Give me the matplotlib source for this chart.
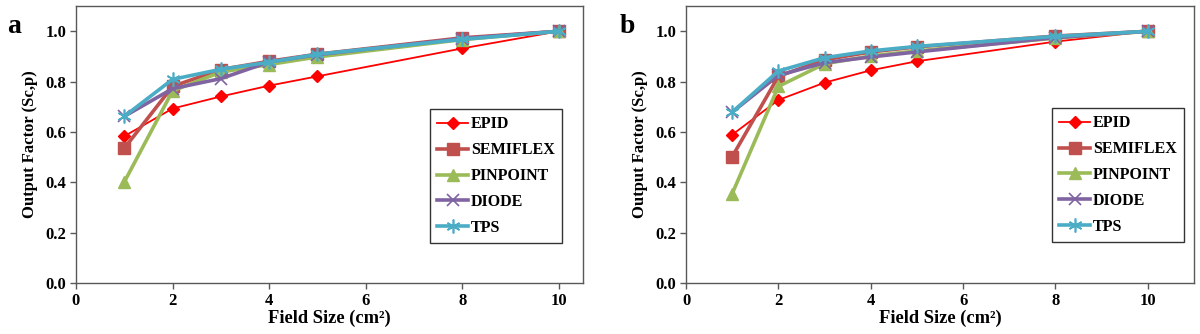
import matplotlib
matplotlib.use("Agg")
import matplotlib.pyplot as plt

plt.rcParams['font.family'] = ['Liberation Serif', 'DejaVu Serif']
plt.rcParams['font.weight'] = 'bold'

field_sizes = [1, 2, 3, 4, 5, 8, 10]

# Panel a
a_epid     = [0.583, 0.693, 0.741, 0.784, 0.821, 0.932, 1.0]
a_semiflex = [0.535, 0.781, 0.848, 0.881, 0.909, 0.974, 1.0]
a_pinpoint = [0.401, 0.763, 0.838, 0.868, 0.898, 0.967, 1.0]
a_diode    = [0.662, 0.772, 0.812, 0.878, 0.907, 0.971, 1.0]
a_tps      = [0.662, 0.809, 0.849, 0.877, 0.909, 0.968, 1.0]

# Panel b
b_epid     = [0.589, 0.727, 0.796, 0.845, 0.881, 0.959, 1.0]
b_semiflex = [0.502, 0.821, 0.887, 0.918, 0.938, 0.981, 1.0]
b_pinpoint = [0.355, 0.781, 0.871, 0.902, 0.922, 0.973, 1.0]
b_diode    = [0.679, 0.825, 0.875, 0.898, 0.918, 0.975, 1.0]
b_tps      = [0.679, 0.842, 0.895, 0.922, 0.940, 0.980, 1.0]

series_names = ["EPID", "SEMIFLEX", "PINPOINT", "DIODE", "TPS"]
x_ticks = [0, 2, 4, 6, 8, 10]
y_ticks = [0.0, 0.2, 0.4, 0.6, 0.8, 1.0]

styles = {
    "EPID":     dict(color="#FF0000", marker="D", lw=1.3, ms=6.5),
    "SEMIFLEX": dict(color="#C0504D", marker="s", lw=2.6, ms=8),
    "PINPOINT": dict(color="#9BBB59", marker="^", lw=2.6, ms=8),
    "DIODE":    dict(color="#8064A2", marker="x", lw=2.6, ms=8, mew=1.2),
    "TPS":      dict(color="#4BACC6", marker=(6, 2, 0), lw=2.6, ms=10, mew=1.2),
}

fig = plt.figure(figsize=(12, 3.34), dpi=100)
ax_a = fig.add_axes([0.0633, 0.1527, 0.4225, 0.829])
ax_b = fig.add_axes([0.5717, 0.1527, 0.4233, 0.829])

panels = [
    (ax_a, "a", [a_epid, a_semiflex, a_pinpoint, a_diode, a_tps], 10.5,
     (0.9586, 0.144), 0.006),
    (ax_b, "b", [b_epid, b_semiflex, b_pinpoint, b_diode, b_tps], 11.0,
     (0.980, 0.148), 0.516),
]

for ax, letter, data, xmax, leg_anchor, letter_x in panels:
    for name, ys in zip(series_names, data):
        st = styles[name]
        ax.plot(field_sizes, ys, color=st["color"], lw=st["lw"],
                marker=st["marker"], markersize=st["ms"],
                markeredgewidth=st.get("mew", 1.0),
                markeredgecolor=st["color"], markerfacecolor=st["color"],
                label=name)
    ax.set_xlim(0, xmax)
    ax.set_ylim(0, 1.1)
    ax.set_xticks(x_ticks)
    ax.set_yticks(y_ticks)
    ax.set_yticklabels([f"{v:.1f}" for v in y_ticks])
    ax.tick_params(axis="both", labelsize=12, direction="out",
                   length=4, width=1, color="#595959", pad=3)
    for lab in ax.get_xticklabels() + ax.get_yticklabels():
        lab.set_fontweight("bold")
    for sp in ax.spines.values():
        sp.set_color("#595959")
        sp.set_linewidth(1.0)
    ax.set_xlabel("Field Size (cm²)", fontsize=13.3, fontweight="bold", labelpad=1)
    ax.set_ylabel("Output Factor (Sc,p)", fontsize=12, fontweight="bold", labelpad=5)
    leg = ax.legend(loc="lower right", bbox_to_anchor=leg_anchor,
                    fontsize=11.5, frameon=True, fancybox=False,
                    handlelength=1.9, handletextpad=0.2, borderpad=0.45,
                    labelspacing=0.62, borderaxespad=0)
    leg.get_frame().set_edgecolor("#000000")
    leg.get_frame().set_linewidth(1.0)
    for t in leg.get_texts():
        t.set_fontweight("bold")
    fig.text(letter_x, 0.90, letter, fontsize=20, fontweight="bold")

fig.savefig("out.png", dpi=100)
